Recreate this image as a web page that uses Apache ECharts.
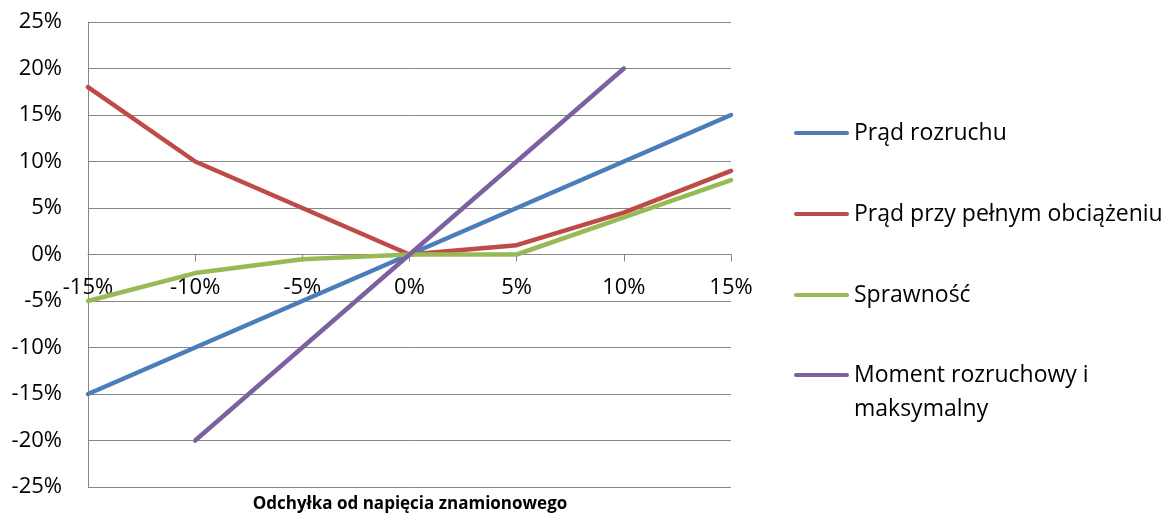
<!DOCTYPE html>
<html>
<head>
<meta charset="utf-8">
<script src="https://cdn.jsdelivr.net/npm/echarts@6/dist/echarts.min.js"></script>
<style>
  html, body { margin: 0; padding: 0; background: #fff; }
  #chart { width: 1166px; height: 513px; }
</style>
</head>
<body>
<div id="chart"></div>
<script>
// Voltage deviation categories (percent)
const categories = ['-15%', '-10%', '-5%', '0%', '5%', '10%', '15%'];

// Relative change of motor parameters (percent)
const pradRozruchu = [-15, -10, -5, 0, 5, 10, 15];
const pradPelneObciazenie = [18, 10, 5, 0, 1, 4.5, 9];
const sprawnosc = [-5, -2, -0.5, 0, 0, 4, 8];
const moment = [null, -20, -10, 0, 10, 20, null];

// value-axis range (percent)
const yMin = -25;
const yMax = 25;
const yStep = 5;

const seriesNames = [
  'Prąd rozruchu',
  'Prąd przy pełnym obciążeniu',
  'Sprawność',
  'Moment rozruchowy i maksymalny'
];
const seriesColors = ['#4A7EBB', '#BE4B48', '#98B954', '#7D60A0'];
const seriesData = [pradRozruchu, pradPelneObciazenie, sprawnosc, moment];

const axisTitle = 'Odchyłka od napięcia znamionowego';

const FONT = '"Open Sans", Lato, sans-serif';

const chart = echarts.init(document.getElementById('chart'), null, { renderer: 'canvas' });

const GRID = { left: 88, right: 435, top: 22, bottom: 26 };
const gridHeight = 513 - GRID.top - GRID.bottom;
// lift the category axis from the bottom edge up to the 0% line
const zeroOffset = -gridHeight * (0 - yMin) / (yMax - yMin);

// vertical centre of each legend entry (first text line)
const legendCenters = [133, 214, 295, 375];
const LINE_H = 34;

const option = {
  animation: false,
  backgroundColor: '#ffffff',
  textStyle: { fontFamily: FONT },
  grid: Object.assign({ containLabel: false, outerBoundsMode: 'none' }, GRID),
  xAxis: {
    type: 'category',
    data: categories,
    boundaryGap: false,
    position: 'bottom',
    offset: zeroOffset,
    axisLine: { onZero: false, lineStyle: { color: '#868686', width: 1 } },
    axisTick: { show: true, length: 7, lineStyle: { color: '#868686' } },
    axisLabel: { color: '#000', fontSize: 22, fontFamily: FONT, margin: 22 },
    splitLine: { show: false }
  },
  yAxis: {
    type: 'value',
    min: yMin,
    max: yMax,
    interval: yStep,
    axisLine: { show: true, onZero: false, lineStyle: { color: '#868686', width: 1 } },
    axisTick: { show: false },
    axisLabel: {
      color: '#000', fontSize: 22, fontFamily: FONT, margin: 26,
      formatter: v => v + '%'
    },
    splitLine: { show: true, lineStyle: { color: '#868686', width: 1 } }
  },
  legend: seriesNames.map((name, i) => {
    const twoLine = i === 3;
    return {
      data: [name],
      orient: 'vertical',
      left: 794,
      top: twoLine ? legendCenters[i] - LINE_H * 1.5 : legendCenters[i] - LINE_H / 2,
      padding: 0,
      itemWidth: 55,
      itemHeight: 14,
      itemGap: 5,
      icon: 'path://M2,5 L53,5 A2,2 0 0 1 53,9 L2,9 A2,2 0 0 1 2,5 Z',
      // the long name wraps; a leading blank line keeps the first line level with the icon
      formatter: n => n === seriesNames[3] ? '\nMoment rozruchowy i\nmaksymalny' : n,
      textStyle: { color: '#000', fontSize: 23, fontFamily: FONT, lineHeight: LINE_H }
    };
  }),
  graphic: [{
    type: 'text',
    x: 410,
    y: 504,
    style: {
      text: axisTitle,
      fill: '#000',
      font: 'bold 17px ' + FONT,
      align: 'center',
      verticalAlign: 'middle'
    }
  }],
  series: seriesNames.map((name, i) => ({
    name,
    type: 'line',
    data: seriesData[i],
    showSymbol: false,
    symbol: 'none',
    connectNulls: false,
    itemStyle: { color: seriesColors[i] },
    lineStyle: { color: seriesColors[i], width: 4.5, cap: 'round', join: 'round' },
    z: 2 + i
  }))
};

chart.setOption(option);
</script>
</body>
</html>
